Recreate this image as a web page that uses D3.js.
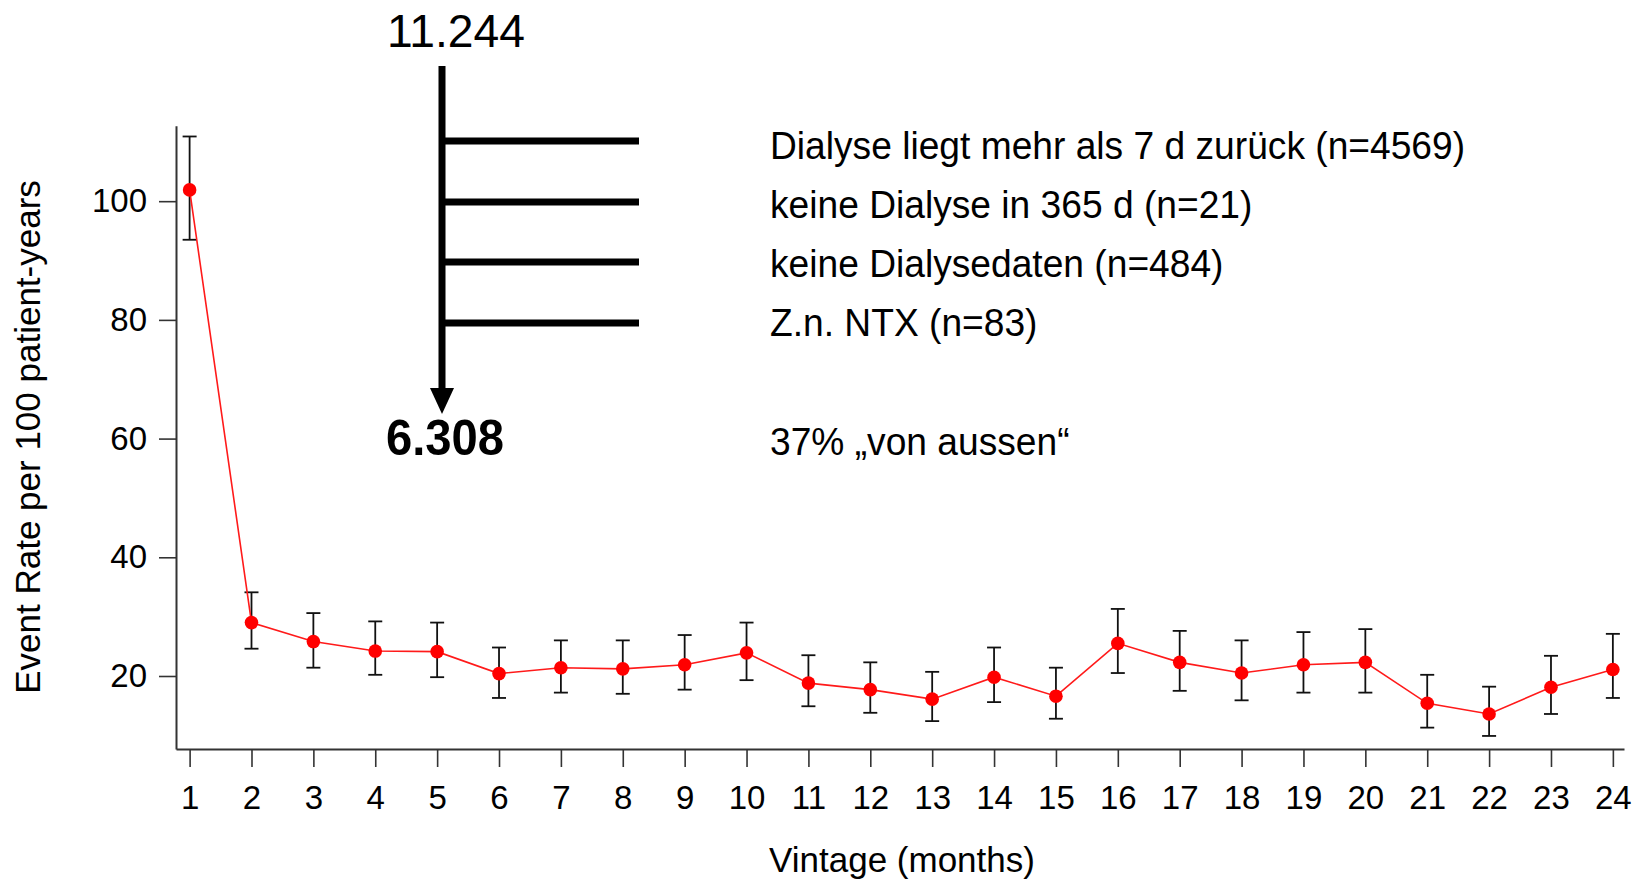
<!DOCTYPE html>
<html>
<head>
<meta charset="utf-8">
<script src="https://cdn.jsdelivr.net/npm/d3@7"></script>
<style>
  body { margin: 0; background: #fff; }
  svg { display: block; font-family: "Liberation Sans", Arial, sans-serif; }
</style>
</head>
<body>
<div id="chart"></div>
<script>
// months 1..24
const months = d3.range(1, 25)
const rate = [101.9, 29.0, 25.8, 24.2, 24.1, 20.4, 21.4, 21.2, 21.9, 23.9, 18.8, 17.7,
              16.1, 19.8, 16.6, 25.5, 22.3, 20.5, 21.9, 22.3, 15.4, 13.6, 18.1, 21.1]
const upper = [110.9, 34.1, 30.6, 29.2, 29.0, 24.8, 26.0, 26.0, 26.9, 29.0, 23.5, 22.3,
               20.7, 24.8, 21.4, 31.3, 27.6, 26.0, 27.4, 27.9, 20.2, 18.2, 23.4, 27.1]
const lower = [93.5, 24.6, 21.4, 20.2, 19.8, 16.3, 17.2, 17.0, 17.7, 19.3, 14.9, 13.8,
               12.4, 15.6, 12.8, 20.5, 17.5, 15.9, 17.2, 17.2, 11.3, 9.9, 13.6, 16.3]
const yTicks = [20, 40, 60, 80, 100]

const topCount = "11.244"
const bottomCount = "6.308"
const reasons = [
    "Dialyse liegt mehr als 7 d zurück (n=4569)",
    "keine Dialyse in 365 d (n=21)",
    "keine Dialysedaten (n=484)",
    "Z.n. NTX (n=83)"
]
const outsideNote = "37% \u201Evon aussen\u201C"

const dataset = months.map((m, i) => ({ month: m, rate: rate[i], hi: upper[i], lo: lower[i] }))

const width = 1643
const height = 880

const svg = d3.select("#chart")
    .append("svg")
        .attr("width", width)
        .attr("height", height)

const xScale = d3.scaleLinear()
    .domain([0.78, 24.18])
    .range([176, 1624])

const yScale = d3.scaleLinear()
    .domain([7.7, 112.7])
    .range([749, 125.8])

// axes
const xAxis = svg.append("g")
    .attr("transform", `translate(0, ${yScale.range()[0]})`)
    .call(d3.axisBottom(xScale).tickValues(months).tickFormat(d3.format("d"))
        .tickSize(18).tickSizeOuter(0).tickPadding(19))

const yAxis = svg.append("g")
    .attr("transform", `translate(${xScale.range()[0]}, 0)`)
    .call(d3.axisLeft(yScale).tickValues(yTicks)
        .tickSize(17).tickSizeOuter(0).tickPadding(12))

svg.selectAll(".domain").attr("stroke", "#333").attr("stroke-width", 2)
svg.selectAll(".tick line").attr("stroke", "#333").attr("stroke-width", 1.6)
svg.selectAll(".tick text").attr("fill", "#000").style("font-size", "33px")
    .style("font-family", "'Liberation Sans', Arial, sans-serif")

// axis titles
svg.append("text")
    .attr("x", 902)
    .attr("y", 872)
    .attr("text-anchor", "middle")
    .style("font-size", "35px")
    .text("Vintage (months)")

svg.append("text")
    .attr("transform", "translate(40, 437) rotate(-90)")
    .attr("text-anchor", "middle")
    .style("font-size", "35px")
    .text("Event Rate per 100 patient-years")

// error bars
const bars = svg.append("g").attr("stroke", "#111").attr("stroke-width", 1.8)
bars.selectAll(".v").data(dataset).join("line")
    .attr("x1", d => xScale(d.month)).attr("x2", d => xScale(d.month))
    .attr("y1", d => yScale(d.hi)).attr("y2", d => yScale(d.lo))
bars.selectAll(".t").data(dataset).join("line")
    .attr("x1", d => xScale(d.month) - 7).attr("x2", d => xScale(d.month) + 7)
    .attr("y1", d => yScale(d.hi)).attr("y2", d => yScale(d.hi))
bars.selectAll(".b").data(dataset).join("line")
    .attr("x1", d => xScale(d.month) - 7).attr("x2", d => xScale(d.month) + 7)
    .attr("y1", d => yScale(d.lo)).attr("y2", d => yScale(d.lo))

// line + points
const lineGenerator = d3.line()
    .x(d => xScale(d.month))
    .y(d => yScale(d.rate))

svg.append("path")
    .attr("d", lineGenerator(dataset))
    .attr("fill", "none")
    .attr("stroke", "#ff1a1a")
    .attr("stroke-width", 1.6)

svg.append("g").selectAll("circle").data(dataset).join("circle")
    .attr("cx", d => xScale(d.month))
    .attr("cy", d => yScale(d.rate))
    .attr("r", 6.8)
    .attr("fill", "#f00")

// annotation: arrow with branches
const ann = svg.append("g")
const arrowX = 442
ann.append("line")
    .attr("x1", arrowX).attr("x2", arrowX)
    .attr("y1", 66).attr("y2", 392)
    .attr("stroke", "#000").attr("stroke-width", 7)
ann.append("path")
    .attr("d", `M${arrowX - 12},388 L${arrowX + 12},388 L${arrowX},414 Z`)
    .attr("fill", "#000")

const branchY = [141, 202, 262, 323]
ann.selectAll(".branch").data(branchY).join("line")
    .attr("x1", arrowX).attr("x2", 639)
    .attr("y1", d => d).attr("y2", d => d)
    .attr("stroke", "#000").attr("stroke-width", 7)

ann.append("text")
    .attr("x", 387).attr("y", 47)
    .attr("textLength", 138).attr("lengthAdjust", "spacingAndGlyphs")
    .style("font-size", "47px")
    .text(topCount)

ann.append("text")
    .attr("x", 386).attr("y", 455)
    .attr("textLength", 118).attr("lengthAdjust", "spacingAndGlyphs")
    .style("font-size", "50px").style("font-weight", "bold")
    .text(bottomCount)

// the source text is a little narrower than Liberation Sans
const squeeze = 0.978
const reasonY = [159, 218, 277, 336]
ann.selectAll(".reason").data(reasons).join("text")
    .attr("x", 770)
    .attr("y", (d, i) => reasonY[i])
    .style("font-size", "38px")
    .text(d => d)
    .each(function () {
        d3.select(this).attr("textLength", this.getComputedTextLength() * squeeze)
            .attr("lengthAdjust", "spacingAndGlyphs")
    })

ann.append("text")
    .attr("x", 770).attr("y", 455)
    .style("font-size", "38px")
    .text(outsideNote)
    .each(function () {
        d3.select(this).attr("textLength", this.getComputedTextLength() * squeeze)
            .attr("lengthAdjust", "spacingAndGlyphs")
    })
</script>
</body>
</html>
